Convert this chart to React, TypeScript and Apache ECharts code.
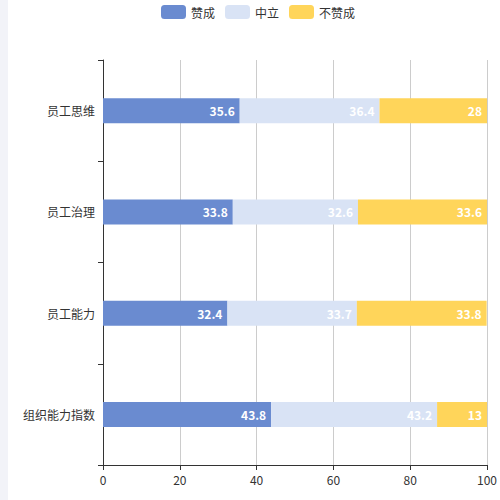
import React, { useEffect, useRef } from "react";
import * as echarts from "echarts";

const categories = ["组织能力指数", "员工能力", "员工治理", "员工思维"];
const agree = [43.8, 32.4, 33.8, 35.6];
const neutral = [43.2, 33.7, 32.6, 36.4];
const disagree = [13, 33.8, 33.6, 28];
const seriesNames = ["赞成", "中立", "不赞成"];
const colors = ["#6a8bd0", "#d9e3f5", "#ffd55a"];

export default function App() {
  const ref = useRef<HTMLDivElement>(null);
  useEffect(() => {
    document.body.style.margin = "0";
    const chart = echarts.init(ref.current!, null, { renderer: "svg" });
    const font = '"Noto Sans CJK SC", "Noto Sans", sans-serif';
    const label = {
      show: true,
      position: "insideRight",
      color: "#fff",
      fontSize: 12,
      fontWeight: 600,
      fontFamily: font,
    };
    const datas = [agree, neutral, disagree];
    chart.setOption({
      animation: false,
      textStyle: { fontFamily: font },
      color: colors,
      legend: {
        top: 0,
        left: 156,
        itemWidth: 25,
        itemHeight: 14,
        itemGap: 10,
        textStyle: { color: "#333", fontSize: 12, fontFamily: font },
        data: seriesNames,
      },
      grid: { left: 103, right: 12, top: 60, bottom: 35, containLabel: false },
      xAxis: {
        type: "value",
        min: 0,
        max: 100,
        interval: 20,
        axisLine: { show: true, lineStyle: { color: "#333" } },
        axisTick: { show: true, lineStyle: { color: "#333" } },
        axisLabel: { color: "#333", fontSize: 12, fontFamily: font },
        splitLine: { show: true, lineStyle: { color: "#ccc" } },
      },
      yAxis: {
        type: "category",
        data: categories,
        axisLine: { show: true, lineStyle: { color: "#333" } },
        axisTick: { show: true, lineStyle: { color: "#333" } },
        axisLabel: { color: "#333", fontSize: 12, fontFamily: font },
      },
      series: seriesNames.map((name, i) => ({
        name,
        type: "bar",
        stack: "total",
        barWidth: 25,
        label,
        data: datas[i],
      })),
    });
    return () => chart.dispose();
  }, []);
  return (
    <div style={{ position: "relative", width: 500, height: 500 }}>
      <div ref={ref} style={{ width: 500, height: 500 }} />
      <div
        style={{
          position: "absolute",
          left: 0,
          top: 0,
          width: 8,
          height: 500,
          background: "#f2f3f8",
        }}
      />
    </div>
  );
}
